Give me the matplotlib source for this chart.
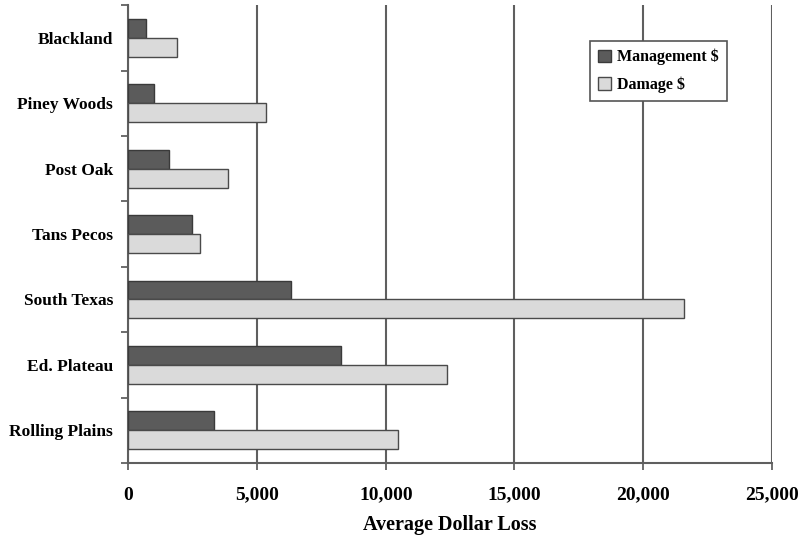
import matplotlib.pyplot as plt
import numpy as np

regions = ["Blackland", "Piney Woods", "Post Oak", "Tans Pecos",
           "South Texas", "Ed. Plateau", "Rolling Plains"]
management = [680, 980, 1560, 2455, 6330, 8250, 3340]
damage = [1885, 5340, 3855, 2790, 21600, 12370, 10490]
xticks = [0, 5000, 10000, 15000, 20000, 25000]

plt.rcParams['font.family'] = ['Liberation Serif', 'DejaVu Serif']
plt.rcParams['font.weight'] = 'bold'

fig = plt.figure(figsize=(8.03, 5.37), dpi=100)
ax = fig.add_axes([0.160, 0.138, 0.801, 0.852])

y = np.arange(len(regions))
h = 0.29
ax.barh(y - h / 2, management, height=h, color='#5b5b5b', edgecolor='#3a3a3a',
        linewidth=1.0, label='Management $', zorder=3)
ax.barh(y + h / 2, damage, height=h, color='#dadada', edgecolor='#4a4a4a',
        linewidth=1.0, label='Damage $', zorder=3)

ax.set_xlim(0, 25000)
ax.set_ylim(len(regions) - 0.5, -0.5)
ax.set_xticks(xticks)
ax.set_xticklabels([f"{v:,}" for v in xticks], fontsize=14, fontweight='bold')
ax.set_yticks(y)
ax.set_yticklabels(regions, fontsize=12.5, fontweight='bold')
ax.set_yticks(np.arange(len(regions) + 1) - 0.5, minor=True)
ax.tick_params(axis='y', which='major', length=0, pad=11)
ax.tick_params(axis='y', which='minor', length=5, width=1.2, color='#555555')
ax.tick_params(axis='x', length=5, width=1.2, color='#555555', pad=12)

ax.grid(axis='x', color='#5f5f5f', linewidth=1.5, zorder=0)
for s in ['top', 'right']:
    ax.spines[s].set_visible(False)
for s in ['left', 'bottom']:
    ax.spines[s].set_color('#5f5f5f')
    ax.spines[s].set_linewidth(1.5)

ax.set_xlabel("Average Dollar Loss", fontsize=14.5, fontweight='bold', labelpad=8)

leg = ax.legend(loc='upper left', bbox_to_anchor=(0.705, 0.94), fontsize=11.5,
                frameon=True, fancybox=False, handlelength=0.8, handleheight=0.8,
                handletextpad=0.4, borderpad=0.5, labelspacing=0.7,
                framealpha=1)
leg.get_frame().set_edgecolor('#555555')
leg.get_frame().set_linewidth(1.2)
leg.set_zorder(5)
for t in leg.get_texts():
    t.set_fontweight('bold')

fig.savefig("out.png", dpi=100)
